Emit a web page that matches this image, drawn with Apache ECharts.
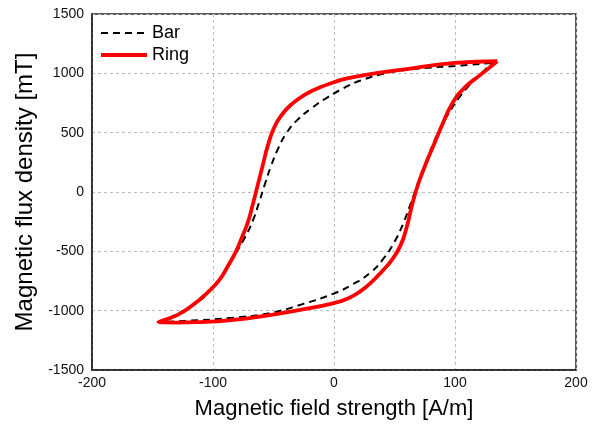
<!DOCTYPE html>
<html>
<head>
<meta charset="utf-8">
<script src="https://cdn.jsdelivr.net/npm/echarts@6/dist/echarts.min.js"></script>
<style>
  html, body { margin: 0; padding: 0; background: #fff; }
  #chart { width: 602px; height: 426px; }
</style>
</head>
<body>
<div id="chart"></div>
<script>
// loop data: start at top-right tip, upper branch down to bottom-left tip, lower branch back up
const barH = [130, 100, 70, 44, 22, 8, -5, -18, -30, -39, -46, -52, -57, -62, -67, -74, -82, -91, -102, -115, -130, -144,
  -120, -86, -53, -26, 0, 16, 30, 41, 50, 57, 64, 71, 79, 87, 95, 103, 111, 120, 130]
const barB = [1088, 1062, 1040, 1003, 940, 875, 800, 710, 610, 500, 370, 220, 70, -90, -240, -390, -530, -680, -830, -945, -1030, -1096,
  -1085, -1062, -1020, -945, -855, -775, -680, -560, -420, -270, -80, 120, 330, 520, 665, 790, 890, 980, 1088]

const ringH = [135, 100, 55, 25, 10, 0, -12, -24, -35, -44, -50, -55, -59, -63, -67, -71, -76, -81, -88, -95, -105, -117, -130, -145,
  -130, -113, -85, -53, -26, 0, 12, 22, 31, 40, 48, 55, 60, 65, 70, 76, 83, 90, 98, 108, 121, 135]
const ringB = [1102, 1088, 1029, 985, 955, 925, 880, 820, 740, 640, 530, 380, 220, 60, -100, -250, -380, -500, -630, -745, -852, -955, -1040, -1095,
  -1100, -1097, -1080, -1037, -990, -936, -895, -835, -760, -665, -570, -450, -300, -90, 80, 240, 410, 580, 750, 880, 987, 1102]

const xTicks = { min: -200, max: 200, step: 100 }
const yTicks = { min: -1500, max: 1500, step: 500 }

const pairs = (xs, ys) => xs.map((x, i) => [x, ys[i]])

const font = 'Liberation Sans, Arial, sans-serif'
const chart = echarts.init(document.getElementById('chart'))

let option = {
    animation: false,
    grid: {
        left: 92, right: 26, top: 14, bottom: 56,
        show: true,
        borderColor: '#222',
        borderWidth: 1.5
    },
    legend: {
        orient: 'vertical',
        left: 94,
        top: 19,
        itemWidth: 46,
        itemHeight: 14,
        itemGap: 4,
        itemStyle: { opacity: 0 },
        textStyle: { fontFamily: font, fontSize: 18, color: '#000' },
        data: [
            { name: 'Bar', lineStyle: { width: 2 } },
            { name: 'Ring', lineStyle: { width: 4 } }
        ]
    },
    xAxis: {
        type: 'value',
        min: xTicks.min, max: xTicks.max, interval: xTicks.step,
        name: 'Magnetic field strength [A/m]',
        nameLocation: 'middle',
        nameGap: 28,
        nameTextStyle: { fontFamily: font, fontSize: 22, color: '#000' },
        axisLine: { onZero: false, lineStyle: { color: '#222', width: 1.5 } },
        axisTick: { show: false },
        axisLabel: { fontFamily: font, fontSize: 14, color: '#111', margin: 6, formatter: v => String(v) },
        splitLine: { lineStyle: { color: '#bbb', type: [3, 3] } }
    },
    yAxis: {
        type: 'value',
        min: yTicks.min, max: yTicks.max, interval: yTicks.step,
        name: 'Magnetic flux density [mT]',
        nameLocation: 'middle',
        nameGap: 52,
        nameTextStyle: { fontFamily: font, fontSize: 24, color: '#000' },
        axisLine: { show: true, onZero: false, lineStyle: { color: '#222', width: 1.5 } },
        axisTick: { show: false },
        axisLabel: { fontFamily: font, fontSize: 14, color: '#111', margin: 8, formatter: v => String(v) },
        splitLine: { lineStyle: { color: '#bbb', type: [3, 3] } }
    },
    series: [
        {
            name: 'Bar',
            type: 'line',
            data: pairs(barH, barB),
            smooth: 0.5,
            symbol: 'none',
            lineStyle: { color: '#000', width: 2, type: [7, 5] },
            itemStyle: { color: '#000' }
        },
        {
            name: 'Ring',
            type: 'line',
            data: pairs(ringH, ringB),
            smooth: 0.5,
            symbol: 'none',
            lineStyle: { color: '#ff0000', width: 3.8 },
            itemStyle: { color: '#ff0000' }
        }
    ]
}

chart.setOption(option)
</script>
</body>
</html>
